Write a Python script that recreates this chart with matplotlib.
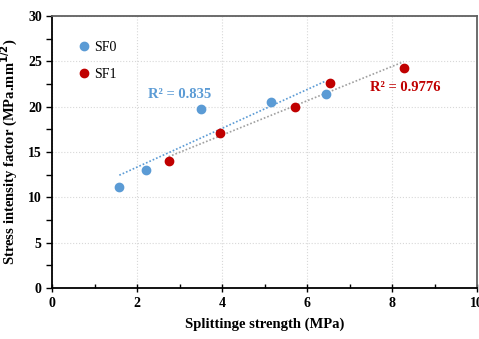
import matplotlib
matplotlib.use('Agg')
import matplotlib.pyplot as plt
import numpy as np
from matplotlib.ticker import MultipleLocator

plt.rcParams['font.family'] = ['Liberation Serif', 'DejaVu Serif']

# data
sf0_x = [1.58, 2.2, 3.5, 5.15, 6.45]
sf0_y = [11.1, 13.0, 19.7, 20.5, 21.4]
sf1_x = [2.74, 3.96, 5.72, 6.53, 8.27]
sf1_y = [14.0, 17.1, 20.0, 22.6, 24.3]
r2_sf0 = 'R² = 0.835'
r2_sf1 = 'R² = 0.9776'

blue = '#5B9BD5'
red = '#C00000'

fig = plt.figure(figsize=(4.79, 3.39), dpi=100)
ax = fig.add_axes([0.109, 0.150, 0.887, 0.803])

# linear trendlines
for xs, ys, col in [(sf0_x, sf0_y, blue), (sf1_x, sf1_y, '#A0A0A0')]:
    k, b = np.polyfit(xs, ys, 1)
    xl = np.array([min(xs), max(xs)])
    ax.plot(xl, k * xl + b, linestyle=(0, (1, 1.2)), color=col, linewidth=1.2, zorder=2)

ax.plot(sf0_x, sf0_y, 'o', color=blue, markersize=6, label='SF0', zorder=3)
ax.plot(sf1_x, sf1_y, 'o', color=red, markersize=6, label='SF1', zorder=3)

ax.text(3.0, 21.3, r2_sf0, color=blue, fontsize=10.5, fontweight='bold', ha='center', va='center')
ax.text(8.3, 22.1, r2_sf1, color=red, fontsize=10.5, fontweight='bold', ha='center', va='center')

ax.set_xlim(0, 10)
ax.set_ylim(0, 30)
ax.xaxis.set_major_locator(MultipleLocator(2))
ax.xaxis.set_minor_locator(MultipleLocator(1))
ax.yaxis.set_major_locator(MultipleLocator(5))
ax.yaxis.set_minor_locator(MultipleLocator(2.5))
ax.tick_params(axis='x', which='major', direction='inout', length=6, width=1)
ax.tick_params(axis='x', which='minor', direction='in', length=3, width=1)
ax.tick_params(axis='y', which='both', direction='out', length=4, width=1)
ax.tick_params(labelsize=10)
for lab in ax.get_xticklabels() + ax.get_yticklabels():
    lab.set_fontweight('bold')

ax.grid(which='major', linestyle=':', color='#D8D8D8', linewidth=0.8)
ax.set_axisbelow(True)

for side in ['left', 'bottom']:
    ax.spines[side].set_color('black')
    ax.spines[side].set_linewidth(1.3)
for side in ['top', 'right']:
    ax.spines[side].set_color('#606060')
    ax.spines[side].set_linewidth(1.3)

ax.set_xlabel('Splittinge strength (MPa)', fontsize=10.5, fontweight='bold', labelpad=5)
ax.set_ylabel(r'Stress intensity factor (MPa.mm$^{\mathbf{1/2}}$)', fontsize=10.5, fontweight='bold', labelpad=6)

ax.legend(loc='upper left', bbox_to_anchor=(0.02, 0.955), frameon=False, fontsize=10,
          handletextpad=0.0, labelspacing=1.0, handlelength=1.5)

fig.savefig('out.png', dpi=100)
